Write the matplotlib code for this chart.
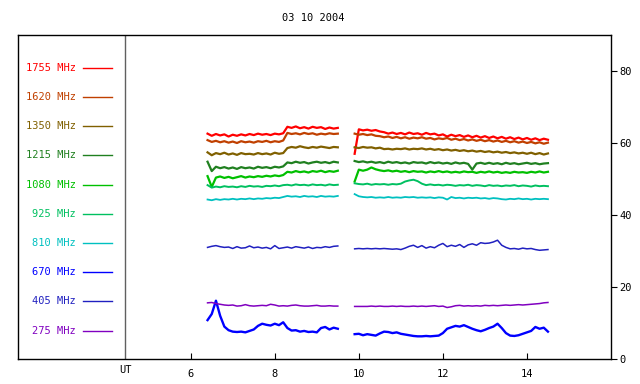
import matplotlib
matplotlib.use("Agg")
import matplotlib.pyplot as plt
from matplotlib.lines import Line2D

title = "03 10 2004"
freqs = ["1755", "1620", "1350", "1215", "1080", "925", "810", "670", "405", "275"]
colors = ["#ff0000", "#c04000", "#806000", "#208020", "#00c000",
          "#00c060", "#00c0c0", "#0000ff", "#2020c0", "#8000c0"]

t1 = [6.4, 6.5, 6.6, 6.7, 6.8, 6.9, 7.0, 7.1, 7.2, 7.3, 7.4, 7.5, 7.6, 7.7, 7.8, 7.9,
      8.0, 8.1, 8.2, 8.3, 8.4, 8.5, 8.6, 8.7, 8.8, 8.9, 9.0, 9.1, 9.2, 9.3, 9.4, 9.5]
t2 = [9.9, 10.0, 10.1, 10.2, 10.3, 10.4, 10.5, 10.6, 10.7, 10.8, 10.9, 11.0, 11.1, 11.2,
      11.3, 11.4, 11.5, 11.6, 11.7, 11.8, 11.9, 12.0, 12.1, 12.2, 12.3, 12.4, 12.5, 12.6,
      12.7, 12.8, 12.9, 13.0, 13.1, 13.2, 13.3, 13.4, 13.5, 13.6, 13.7, 13.8, 13.9, 14.0,
      14.1, 14.2, 14.3, 14.4, 14.5]

s1755_a = [62.6, 62.0, 62.5, 62.1, 62.4, 61.8, 62.3, 62.0, 62.4, 62.1, 62.5, 62.2, 62.6, 62.3,
           62.5, 62.2, 62.6, 62.4, 62.7, 64.5, 64.2, 64.6, 64.1, 64.4, 64.0, 64.5, 64.2, 64.4,
           63.9, 64.3, 64.0, 64.2]
s1755_b = [57.0, 63.8, 63.5, 63.7, 63.4, 63.6, 63.2, 63.0, 62.6, 62.9, 62.5, 62.8, 62.4, 62.9,
           62.5, 62.7, 62.3, 62.8, 62.4, 62.6, 62.1, 62.4, 61.8, 62.3, 61.9, 62.2, 61.7, 62.1,
           61.6, 62.0, 61.5, 61.9, 61.4, 61.8, 61.3, 61.7, 61.2, 61.6, 61.1, 61.5, 61.0, 61.4,
           60.9, 61.3, 60.8, 61.2, 60.9]
s1620_a = [60.8, 60.3, 60.6, 60.2, 60.5, 60.1, 60.4, 60.0, 60.5, 60.2, 60.4, 60.1, 60.5, 60.3,
           60.6, 60.2, 60.5, 60.3, 60.7, 62.8, 62.5, 62.7, 62.4, 62.8, 62.5, 62.7, 62.3, 62.6,
           62.4, 62.7, 62.5, 62.6]
s1620_b = [62.6, 62.3, 62.5, 62.2, 62.4, 62.0, 61.9, 61.6, 61.8, 61.4, 61.7, 61.3, 61.6, 61.2,
           61.5, 61.3, 61.6, 61.2, 61.4, 61.0, 61.3, 61.1, 61.4, 60.9, 61.2, 60.8, 61.1, 60.7,
           61.0, 60.6, 60.9, 60.5, 60.8, 60.4, 60.7, 60.3, 60.6, 60.2, 60.5, 60.1, 60.4, 60.0,
           60.3, 59.9, 60.2, 59.8, 60.1]
s1350_a = [57.4, 56.6, 57.2, 56.9, 57.3, 56.8, 57.1, 56.7, 57.2, 56.9, 57.0, 56.8, 57.2, 56.9,
           57.1, 56.8, 57.3, 57.0, 57.2, 58.6, 58.9, 58.7, 59.1, 58.8, 58.6, 58.9, 58.7, 59.0,
           58.8, 58.6, 58.9, 58.8]
s1350_b = [58.8, 58.6, 58.9, 58.7, 58.8, 58.5, 58.7, 58.3, 58.4, 58.2, 58.4, 58.3, 58.5, 58.2,
           58.4, 58.3, 58.5, 58.2, 58.4, 58.1, 58.3, 58.0, 58.2, 57.9, 58.1, 57.8, 58.0, 57.7,
           57.9, 57.6, 57.8, 57.5, 57.7, 57.4, 57.6, 57.3, 57.5, 57.2, 57.4, 57.1, 57.3, 57.0,
           57.3, 56.9, 57.2, 56.8, 57.1]
s1215_a = [54.8, 52.2, 53.4, 53.0, 53.3, 52.9, 53.2, 52.8, 53.3, 53.0, 53.2, 52.9, 53.4, 53.1,
           53.3, 53.0, 53.4, 53.2, 53.5, 54.6, 54.4, 54.8, 54.5, 54.7, 54.3, 54.6, 54.8, 54.5,
           54.7, 54.4, 54.8, 54.6]
s1215_b = [55.0, 54.7, 54.9, 54.6, 54.8, 54.5, 54.7, 54.4, 54.8, 54.5, 54.7, 54.4, 54.6, 54.3,
           54.7, 54.5, 54.6, 54.3, 54.7, 54.4, 54.6, 54.3, 54.5, 54.2, 54.6, 54.3, 54.5, 54.2,
           52.6, 54.3, 54.5, 54.2, 54.5, 54.2, 54.4, 54.1, 54.5, 54.2, 54.4, 54.1, 54.3, 54.5,
           54.2, 54.4, 54.1, 54.3, 54.4]
s1080_a = [50.8, 47.8, 50.4, 50.7, 50.3, 50.6, 50.2, 50.5, 50.8, 50.4, 50.7, 50.5, 50.8, 50.6,
           50.9, 50.7, 51.0, 50.8, 51.1, 52.0, 51.8, 52.2, 51.9, 52.1, 51.8, 52.2, 52.0, 52.3,
           51.9, 52.2, 52.0, 52.3]
s1080_b = [49.3, 52.6, 52.3, 52.6, 53.2, 52.7, 52.4, 52.2, 52.4, 52.1, 52.3, 52.0, 52.2, 51.9,
           52.2, 52.0, 52.1, 51.8, 52.1, 51.9, 52.2, 51.9, 52.1, 51.8, 52.0, 51.8, 52.1, 51.9,
           52.0, 51.7, 52.0, 51.8, 52.1, 51.8, 52.0, 51.7, 51.9, 51.7, 52.0, 51.8, 51.9, 51.7,
           52.0, 51.8, 52.1, 51.8, 52.0]
s925_a = [48.3, 47.6, 47.9, 47.7, 48.0, 47.8, 47.9, 47.7, 48.0, 47.8, 48.1, 47.9, 48.0, 47.8,
          48.1, 48.0, 48.2, 48.0, 48.3, 48.4, 48.2, 48.5, 48.3, 48.4, 48.2, 48.5, 48.3, 48.4,
          48.2, 48.5, 48.3, 48.4]
s925_b = [48.8, 48.6, 48.5, 48.7, 48.4, 48.6, 48.5, 48.6, 48.4, 48.6, 48.5, 48.7, 49.3, 49.6,
          49.8, 49.4, 48.7, 48.3, 48.5, 48.3, 48.4, 48.2, 48.4, 48.3, 48.1, 48.3, 48.2, 48.4,
          48.1, 48.3, 48.2, 48.0, 48.3, 48.1, 48.2, 48.0, 48.2, 48.1, 48.3, 48.0, 48.2, 48.1,
          47.9, 48.2, 48.0, 48.1, 48.0]
s810_a = [44.3, 44.1, 44.4, 44.2, 44.4, 44.3, 44.5, 44.3, 44.5, 44.4, 44.6, 44.4, 44.6, 44.5,
          44.7, 44.6, 44.8, 44.7, 45.0, 45.3, 45.1, 45.2, 45.0, 45.3, 45.1, 45.2, 45.0, 45.3,
          45.1, 45.2, 45.1, 45.3]
s810_b = [45.8, 45.2, 45.0, 44.9, 45.0, 44.8, 44.9, 44.8, 45.0, 44.8, 44.9, 44.8, 45.0, 44.9,
          45.0, 44.8, 44.9, 44.8, 44.9, 44.7, 44.9, 44.8, 44.3, 45.0, 44.7, 44.8, 44.6, 44.8,
          44.7, 44.8, 44.6, 44.7, 44.5, 44.7, 44.6, 44.4, 44.3, 44.5, 44.4, 44.6, 44.4, 44.5,
          44.3, 44.5, 44.4, 44.5, 44.4]
s670_a = [10.8, 12.5, 16.2, 12.0, 9.0, 8.0, 7.6, 7.5, 7.6, 7.4, 7.8, 8.2, 9.2, 9.8, 9.5, 9.3,
          9.8, 9.4, 10.2, 8.6, 7.9, 8.0, 7.6, 7.8, 7.5, 7.6, 7.4, 8.6, 8.9, 8.2, 8.7, 8.4]
s670_b = [6.9, 7.0, 6.6, 6.9, 6.7, 6.5, 7.1, 7.6, 7.5, 7.2, 7.4, 7.0, 6.8, 6.6, 6.4, 6.3, 6.3,
          6.4, 6.3, 6.4, 6.5, 7.2, 8.4, 8.8, 9.2, 9.0, 9.4, 8.9, 8.4, 8.0, 7.7, 8.1, 8.6, 9.0,
          9.8, 8.6, 7.2, 6.5, 6.4, 6.6, 7.0, 7.4, 7.8, 8.9, 8.4, 8.7, 7.6]
s405_a = [31.0, 31.3, 31.5, 31.2, 31.0, 31.1, 30.7, 31.2, 30.8, 30.9, 31.4, 30.9, 31.1, 30.8,
          31.0, 30.6, 31.5, 30.7, 30.9, 31.1, 30.8, 31.2, 31.0, 30.8, 31.1, 30.7, 31.0, 30.9,
          31.2, 31.0, 31.3, 31.4]
s405_b = [30.6, 30.7, 30.6, 30.7, 30.6, 30.7, 30.6, 30.7, 30.6, 30.5, 30.6, 30.4, 30.8, 31.3,
          31.6, 31.0, 31.5, 30.8, 31.2, 30.9, 31.6, 32.1, 31.2, 31.6, 31.3, 31.8, 31.0, 31.7,
          32.0, 31.6, 32.3, 32.1, 32.2, 32.5, 33.0, 31.6, 31.0, 30.6, 30.7, 30.5, 30.8, 30.6,
          30.7, 30.4, 30.2, 30.3, 30.4]
s275_a = [15.6, 15.7, 15.4, 15.2, 15.0, 14.9, 15.0, 14.7, 14.8, 15.1, 14.8, 14.7, 14.8, 14.9,
          14.8, 15.2, 15.0, 14.7, 14.8, 14.7, 14.9, 15.0, 14.8, 14.7, 14.7, 14.8, 14.9, 14.7,
          14.7, 14.8, 14.7, 14.7]
s275_b = [14.6, 14.6, 14.6, 14.6, 14.7, 14.6, 14.7, 14.6, 14.6, 14.7, 14.6, 14.7, 14.6, 14.6,
          14.7, 14.6, 14.7, 14.6, 14.7, 14.8, 14.6, 14.7, 14.3, 14.5, 14.8, 14.9, 14.7, 14.8,
          14.7, 14.8, 14.7, 14.9, 14.8, 14.9, 14.8, 14.9, 15.0, 14.9, 15.0, 15.1, 15.0, 15.1,
          15.2, 15.3, 15.4, 15.6, 15.7]

seg_a = [s1755_a, s1620_a, s1350_a, s1215_a, s1080_a, s925_a, s810_a, s670_a, s405_a, s275_a]
seg_b = [s1755_b, s1620_b, s1350_b, s1215_b, s1080_b, s925_b, s810_b, s670_b, s405_b, s275_b]
widths = [1.6, 1.6, 1.6, 1.6, 1.6, 1.4, 1.3, 1.7, 1.1, 1.1]

xticks = [6, 8, 10, 12, 14]
yticks = [0, 20, 40, 60, 80]

W, H = 640, 384
fig = plt.figure(figsize=(6.4, 3.84), dpi=100)
ax = fig.add_axes([18 / W, (H - 359) / H, 593 / W, 324 / H])
mono = "DejaVu Sans Mono"

for c, lw, ya, yb in zip(colors, widths, seg_a, seg_b):
    ax.plot(t1, ya, color=c, lw=lw)
    ax.plot(t2, yb, color=c, lw=lw)

ax.set_xlim(1.89, 16.0)
ax.set_ylim(0, 90)
ax.set_xticks(xticks)
ax.set_xticklabels([str(v) for v in xticks], family=mono, fontsize=7.5)
ax.tick_params(axis="x", direction="in", length=4, width=0.8, pad=7)
ax.yaxis.tick_right()
ax.set_yticks(yticks)
ax.set_yticklabels([str(v) for v in yticks], family=mono, fontsize=7.5)
ax.tick_params(axis="y", direction="out", length=4, width=0.8, pad=2)
for sp in ax.spines.values():
    sp.set_color("black")
    sp.set_linewidth(1.0)

# legend panel separator
ax.axvline(4.436, color="#606060", lw=1.0)
ax.text(4.436, -3.0, "UT", ha="center", va="center", family=mono, fontsize=7.5)

fig.text(313 / W, 1 - 18 / H, title, ha="center", va="center", family=mono, fontsize=7.5)

# legend
for i, (f, c) in enumerate(zip(freqs, colors)):
    yp = 67.7 + i * 29.2
    fig.text(76 / W, 1 - yp / H, f + " MHz", color=c, ha="right", va="center",
             family=mono, fontsize=7.5)
    fig.add_artist(Line2D([83 / W, 112 / W], [1 - yp / H, 1 - yp / H], color=c, lw=1.0))

fig.savefig("out.png", dpi=100)
